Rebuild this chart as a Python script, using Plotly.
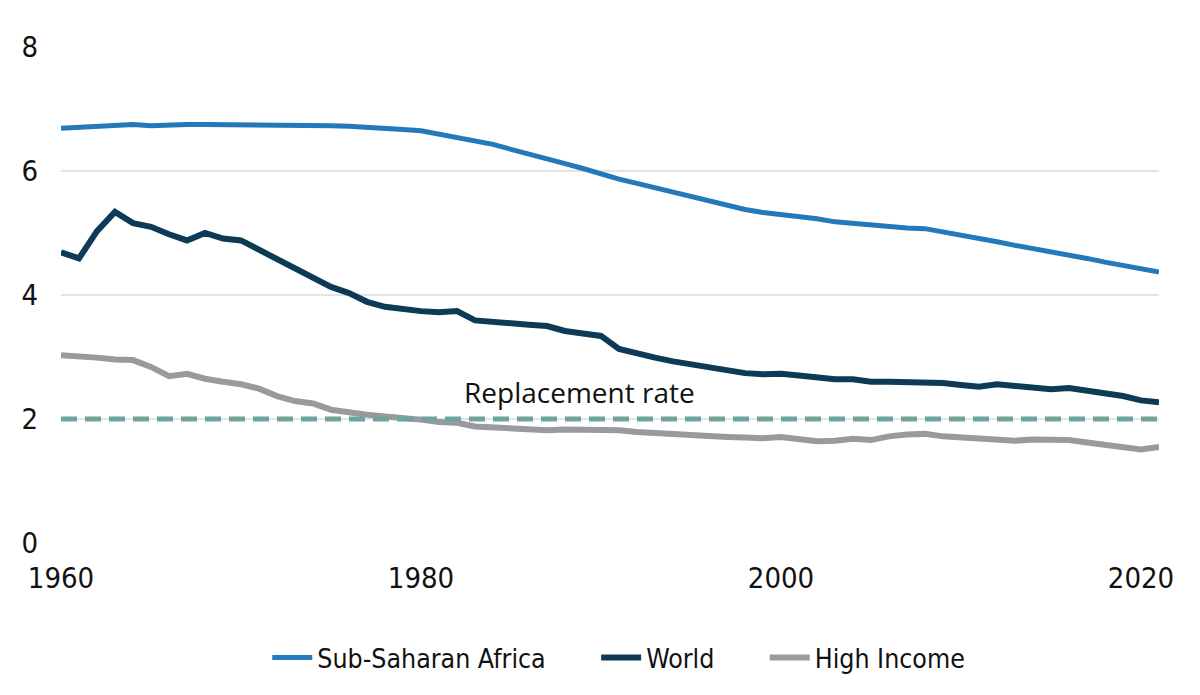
import plotly.graph_objects as go

years = list(range(1960, 2022))

ssa = [6.69, 6.70, 6.73, 6.74, 6.75, 6.73, 6.75, 6.75, 6.75, 6.75,
       6.74, 6.75, 6.74, 6.74, 6.74, 6.73, 6.72, 6.71, 6.69, 6.67,
       6.65, 6.60, 6.55, 6.48, 6.43, 6.35, 6.28, 6.21, 6.12, 6.04,
       5.95, 5.87, 5.80, 5.73, 5.65, 5.57, 5.51, 5.45, 5.38, 5.33,
       5.30, 5.27, 5.23, 5.18, 5.15, 5.13, 5.11, 5.08, 5.07, 5.02,
       4.98, 4.92, 4.86, 4.80, 4.75, 4.71, 4.64, 4.59, 4.53, 4.48,
       4.43, 4.37]

world = [4.69, 4.59, 5.03, 5.34, 5.16, 5.10, 4.98, 4.88, 5.00, 4.91,
         4.88, 4.73, 4.59, 4.45, 4.29, 4.13, 4.03, 3.89, 3.81, 3.77,
         3.74, 3.72, 3.74, 3.59, 3.56, 3.53, 3.52, 3.50, 3.42, 3.38,
         3.34, 3.13, 3.05, 2.99, 2.93, 2.88, 2.83, 2.78, 2.74, 2.72,
         2.73, 2.70, 2.66, 2.64, 2.64, 2.60, 2.60, 2.60, 2.60, 2.58,
         2.55, 2.52, 2.56, 2.53, 2.51, 2.48, 2.50, 2.46, 2.41, 2.37,
         2.30, 2.27]

high_income = [3.03, 3.02, 2.99, 2.96, 2.95, 2.84, 2.69, 2.73, 2.65, 2.60,
               2.56, 2.49, 2.37, 2.29, 2.25, 2.15, 2.10, 2.07, 2.04, 2.02,
               1.99, 1.95, 1.94, 1.88, 1.86, 1.85, 1.82, 1.82, 1.83, 1.83,
               1.84, 1.82, 1.79, 1.77, 1.75, 1.73, 1.72, 1.71, 1.70, 1.69,
               1.71, 1.68, 1.64, 1.65, 1.68, 1.66, 1.72, 1.75, 1.76, 1.72,
               1.70, 1.68, 1.68, 1.65, 1.67, 1.67, 1.66, 1.62, 1.59, 1.55,
               1.51, 1.55]

replacement = [2.0] * len(years)

x_ticks = [1960, 1980, 2000, 2020]
y_ticks = [0, 2, 4, 6, 8]

narrow = "Liberation Sans Narrow, DejaVu Sans Condensed, Arial Narrow, sans-serif"
pad = "\u00a0" * 6

fig = go.Figure()

fig.add_trace(go.Scatter(x=years, y=ssa, mode="lines", name="Sub-Saharan Africa" + pad,
                         line=dict(color="#2379b9", width=5)))
fig.add_trace(go.Scatter(x=years, y=world, mode="lines", name="World" + pad,
                         line=dict(color="#0c3a57", width=6)))
fig.add_trace(go.Scatter(x=years, y=high_income, mode="lines", name="High Income",
                         line=dict(color="#9a9a9e", width=6)))
fig.add_trace(go.Scatter(x=years, y=replacement, mode="lines", showlegend=False,
                         line=dict(color="#6fa39b", width=5, dash="16px,8px")))

fig.add_annotation(x=1988.8, y=2.43, text="Replacement rate", showarrow=False,
                   font=dict(family="Open Sans, Noto Sans, sans-serif", size=28, color="#111111"))

# page body adds an 8px offset, margins are trimmed to compensate
fig.update_layout(
    width=1200, height=695,
    margin=dict(l=53, r=49, t=39, b=160),
    paper_bgcolor="white", plot_bgcolor="white",
    font=dict(family=narrow, color="#111111"),
    legend=dict(orientation="h", x=0.508, xanchor="center", y=-0.183, yanchor="top",
                font=dict(size=26.5, family=narrow), itemwidth=40),
)

fig.update_xaxes(range=[1960, 2021], tickvals=x_ticks, showgrid=False, zeroline=False,
                 showline=False, ticks="", tickfont=dict(size=29), ticklabelstandoff=15)
fig.update_yaxes(range=[0, 8], tickvals=y_ticks, showgrid=True, gridcolor="#e3e3e3",
                 gridwidth=2, zeroline=False, showline=False, ticks="",
                 tickfont=dict(size=29), ticklabelstandoff=22)

fig.write_html("out.html")
